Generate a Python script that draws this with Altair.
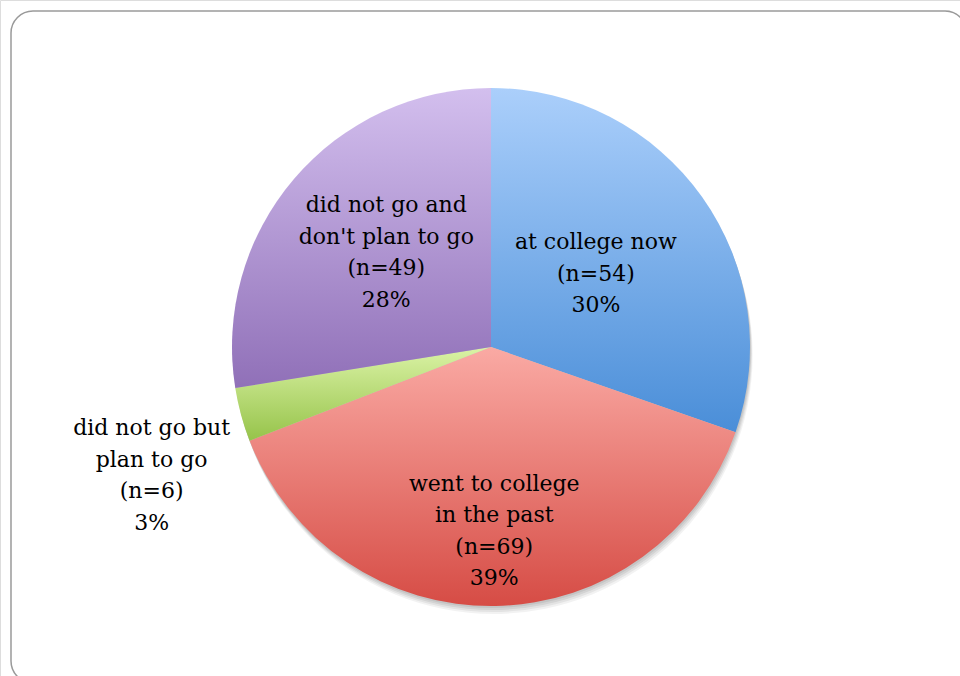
import altair as alt
import pandas as pd

categories = ["at college now", "went to college in the past",
              "did not go but plan to go", "did not go and don't plan to go"]
labels = ["at college now\n(n=54)\n30%",
          "went to college\nin the past\n(n=69)\n39%",
          "did not go but\nplan to go\n(n=6)\n3%",
          "did not go and\ndon't plan to go\n(n=49)\n28%"]
counts = [54, 69, 6, 49]
order = [0, 1, 2, 3]

# layout / style (not data)
CX, CY, R = 491, 347, 259
LH = 31.5
label_radius = {"at college now": 128, "went to college in the past": 184,
                "did not go but plan to go": 363, "did not go and don't plan to go": 141}
label_angle_shift = {"at college now": 0.4, "went to college in the past": 0.0,
                     "did not go but plan to go": -5.6, "did not go and don't plan to go": 1.6}
gradients = {
    "at college now": ("#abcffb", "#4a8ed8"),
    "went to college in the past": ("#faaaa4", "#d64c45"),
    "did not go but plan to go": ("#dbf3a6", "#96c34a"),
    "did not go and don't plan to go": ("#d3bfee", "#9070b8"),
}

df = pd.DataFrame({"category": categories, "label": labels, "n": counts, "order": order})
df["lr"] = df["category"].map(label_radius)
df["shift"] = df["category"].map(label_angle_shift)

base = alt.Chart(df).transform_joinaggregate(
    total="sum(n)"
).transform_window(
    cum="sum(n)", sort=[alt.SortField("order")]
).transform_calculate(
    start="(datum.cum - datum.n) / datum.total * 2 * PI",
    end="datum.cum / datum.total * 2 * PI",
    mid="(datum.cum - datum.n / 2) / datum.total * 2 * PI + datum.shift * PI / 180",
    nlines="length(split(datum.label, '\\n'))",
).transform_calculate(
    lx=f"{CX} + datum.lr * sin(datum.mid)",
    ly=f"{CY} - datum.lr * cos(datum.mid) - (datum.nlines - 1) / 2 * {LH}",
)

font = "DejaVu Serif"

border = alt.Chart(alt.Data(values=[{"a": 1}])).mark_rect(
    cornerRadius=22, fill="transparent", stroke="#9a9a9a", strokeWidth=1.5
).encode(x=alt.value(11), x2=alt.value(967), y=alt.value(11), y2=alt.value(683))

shadows = []
for off, op in [(2, 0.07), (4, 0.07), (6, 0.06), (8, 0.05)]:
    shadows.append(
        alt.Chart(alt.Data(values=[{"a": 1}])).mark_arc(
            radius=R, theta=0, theta2=6.2832, fill="#000000", opacity=op
        ).encode(x=alt.value(CX + off / 3), y=alt.value(CY + off))
    )

slices = []
for cat in categories:
    c0, c1 = gradients[cat]
    grad = alt.LinearGradient(
        gradient="linear", x1=0, y1=0, x2=0, y2=1,
        stops=[alt.GradientStop(offset=0, color=c0), alt.GradientStop(offset=1, color=c1)],
    )
    slices.append(
        base.transform_filter(alt.datum.category == cat).mark_arc(
            radius=R, fill=grad
        ).encode(
            theta=alt.Theta("start:Q", scale=None),
            theta2=alt.Theta2("end:Q"),
            x=alt.value(CX), y=alt.value(CY),
        )
    )

text = base.mark_text(
    font=font, fontSize=22, lineBreak="\n", lineHeight=LH, color="#000000",
    align="center", baseline="middle"
).encode(
    x=alt.X("lx:Q", scale=None),
    y=alt.Y("ly:Q", scale=None),
    text="label:N",
)

chart = alt.layer(border, *shadows, *slices, text).properties(
    width=960, height=676, padding=0, autosize=alt.AutoSizeParams(type="none")
).configure_view(stroke=None).configure(background="white")

chart.save("out.html", embed_options={"renderer": "svg", "actions": False})
